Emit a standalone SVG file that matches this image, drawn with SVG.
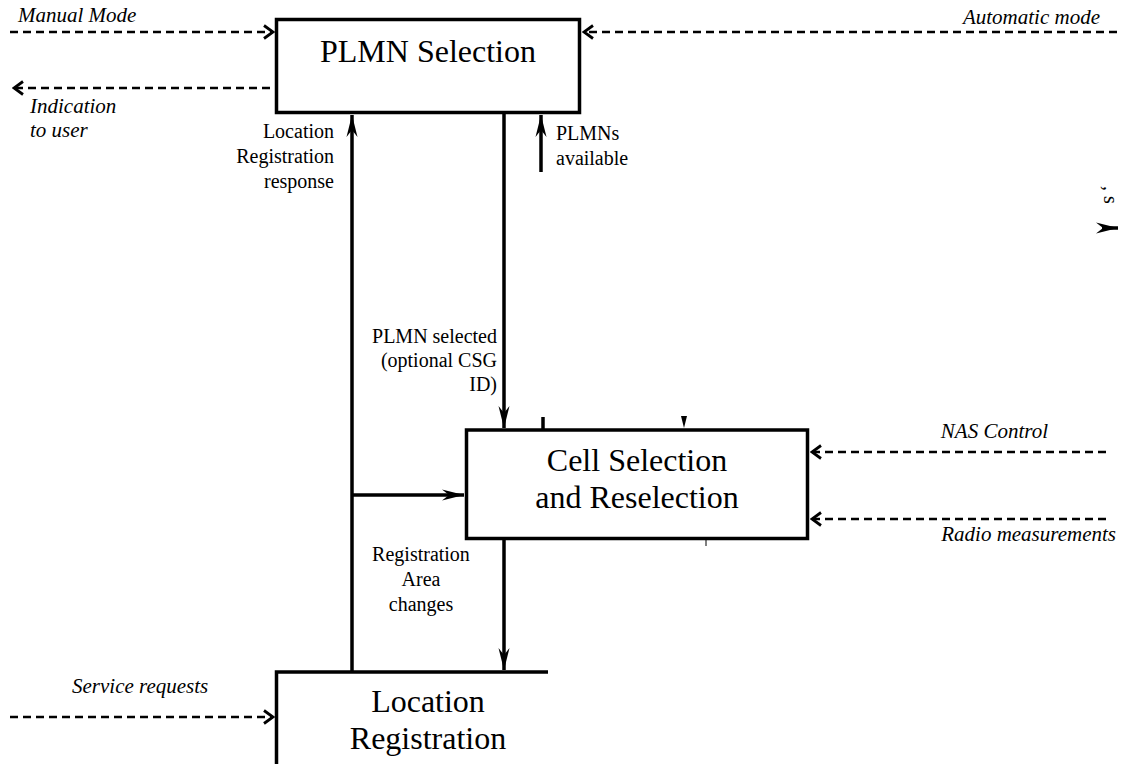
<svg xmlns="http://www.w3.org/2000/svg" width="1121" height="764" viewBox="0 0 1121 764">
<defs>
<style>
.box{fill:#fff;stroke:#000;stroke-width:3.5}
text{font-family:'Liberation Serif','Times New Roman',serif;fill:#000}
.big{font-size:32px;text-anchor:middle}
.lbl{font-size:20px}
.it{font-size:21px;font-style:italic}
.solid{stroke:#000;stroke-width:3.5;fill:none}
.dash{stroke:#000;stroke-width:2.5;fill:none;stroke-dasharray:8 5}
</style>
<marker id="ah" markerUnits="userSpaceOnUse" markerWidth="24" markerHeight="14" viewBox="-22 -7 24 14" refX="0" refY="0" orient="auto">
<path d="M0,0 L-22,-5.5 L-15,0 L-22,5.5 Z" fill="#000"/>
</marker>
<marker id="oh" markerUnits="userSpaceOnUse" markerWidth="14" markerHeight="16" viewBox="-12 -8 14 16" refX="0" refY="0" orient="auto">
<path d="M-9,-6.5 L0,0 L-9,6.5" fill="none" stroke="#000" stroke-width="2.8"/>
</marker>
</defs>
<rect width="1121" height="764" fill="#fff"/>

<g id="connectors">
<line class="dash" x1="10" y1="32" x2="273" y2="32" marker-end="url(#oh)"/>
<line class="dash" x1="270" y1="88" x2="14" y2="88" marker-end="url(#oh)"/>
<line class="dash" x1="1117" y1="32" x2="584" y2="32" marker-end="url(#oh)"/>
<line class="dash" x1="1106" y1="452" x2="812" y2="452" marker-end="url(#oh)"/>
<line class="dash" x1="1106" y1="519" x2="812" y2="519" marker-end="url(#oh)"/>
<line class="dash" x1="10" y1="717" x2="273" y2="717" marker-end="url(#oh)"/>
<line class="solid" x1="352" y1="672" x2="352" y2="115" marker-end="url(#ah)"/>
<line class="solid" x1="352" y1="495" x2="464" y2="495" marker-end="url(#ah)"/>
<line class="solid" x1="504" y1="113" x2="504" y2="428" marker-end="url(#ah)"/>
<line class="solid" x1="541" y1="172" x2="541" y2="115" marker-end="url(#ah)"/>
<line class="solid" x1="504" y1="540" x2="504" y2="670" marker-end="url(#ah)"/>
<line class="solid" x1="543" y1="417" x2="543" y2="431"/>
<path d="M681,416 L687,416 L684,428 Z" fill="#000"/>
<line x1="706" y1="540" x2="706" y2="546" stroke="#000" stroke-width="1"/>
<line class="solid" x1="1102" y1="228" x2="1118" y2="228" marker-end="url(#ah)"/>
</g>

<g id="plmn-selection">
<rect class="box" x="276.5" y="19.5" width="303" height="93"/>
<text class="big" x="428" y="62">PLMN Selection</text>
</g>

<g id="cell-selection">
<rect class="box" x="466.5" y="430" width="341" height="108.5"/>
<text class="big" x="637" y="471">Cell Selection</text>
<text class="big" x="637" y="508">and Reselection</text>
</g>

<g id="location-registration">
<path class="solid" d="M548,672 H276.5 V770"/>
<text class="big" x="428" y="712">Location</text>
<text class="big" x="428" y="749">Registration</text>
</g>

<g id="labels">
<text class="it" x="18" y="22">Manual Mode</text>
<text class="it" x="30" y="113">Indication</text>
<text class="it" x="30" y="137">to user</text>
<text class="it" x="1100" y="24" text-anchor="end">Automatic mode</text>
<text class="it" x="1048" y="438" text-anchor="end">NAS Control</text>
<text class="it" x="1116" y="541" text-anchor="end">Radio measurements</text>
<text class="it" x="72" y="693">Service requests</text>
<text class="lbl" x="334" y="138" text-anchor="end">Location</text>
<text class="lbl" x="334" y="163" text-anchor="end">Registration</text>
<text class="lbl" x="334" y="188" text-anchor="end">response</text>
<text class="lbl" x="556" y="140">PLMNs</text>
<text class="lbl" x="556" y="165">available</text>
<text class="lbl" x="497" y="343" text-anchor="end">PLMN selected</text>
<text class="lbl" x="497" y="367" text-anchor="end">(optional CSG</text>
<text class="lbl" x="497" y="391" text-anchor="end">ID)</text>
<text class="lbl" x="421" y="561" text-anchor="middle">Registration</text>
<text class="lbl" x="421" y="586" text-anchor="middle">Area</text>
<text class="lbl" x="421" y="611" text-anchor="middle">changes</text>
<text class="lbl" x="1104" y="186" font-size="13" transform="rotate(90 1104 186)">, s</text>
</g>
</svg>
